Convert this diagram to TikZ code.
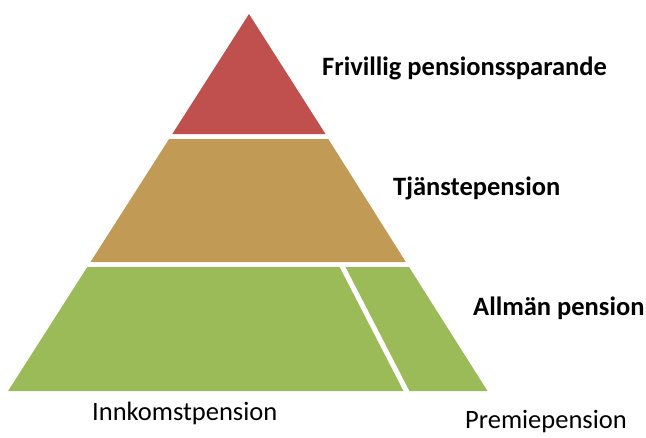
\documentclass[tikz,border=0pt]{standalone}
\usepackage{fontspec}
\setmainfont{Carlito}
\definecolor{pyrred}{HTML}{C0504D}
\definecolor{pyrtan}{HTML}{C19A55}
\definecolor{pyrgreen}{HTML}{9BBB59}
\begin{document}
\begin{tikzpicture}[x=1pt,y=-1pt,
  lbl/.style={anchor=base west,inner sep=0pt,font=\fontsize{26.5}{30}\selectfont\bfseries},
  lblreg/.style={anchor=base west,inner sep=0pt,font=\fontsize{26.5}{30}\selectfont}]
\useasboundingbox[fill=white] (0,0) rectangle (646,437);
% levels
\fill[pyrred] (249,14) -- (172.3,134) -- (325.5,134) -- cycle;
\fill[pyrtan] (169.1,139) -- (328.3,139) -- (405.8,262) -- (90.5,262) -- cycle;
\fill[pyrgreen] (87.3,267) -- (409,267) -- (487.5,391) -- (8.1,391) -- cycle;
% divider
\draw[white,line width=5pt] (341.5,265) -- (407.5,393);
% labels
\node[lbl] (fri) at (322,75) {Frivillig pensionssparande};
\node[lbl] (tja) at (393,195) {Tjänstepension};
\node[lbl] (all) at (473,315) {Allmän pension};
\node[lblreg] (ink) at (92,420) {Innkomstpension};
\node[lblreg] (pre) at (465,428) {Premiepension};
\end{tikzpicture}
\end{document}
